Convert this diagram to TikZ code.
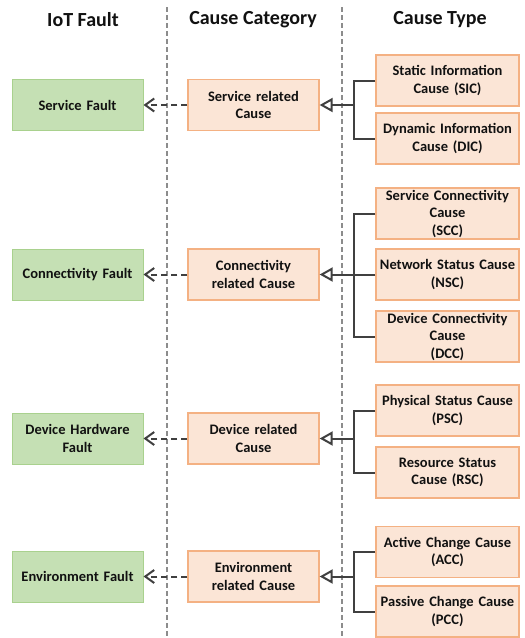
\documentclass[tikz,border=0pt]{standalone}
\usepackage{fontspec}
\setmainfont{Carlito}
\usetikzlibrary{arrows.meta}
\definecolor{gfill}{HTML}{C5E0B4}
\definecolor{gdraw}{HTML}{A9D18E}
\definecolor{ofill}{HTML}{FBE5D6}
\definecolor{odraw}{HTML}{F4B183}
\definecolor{dk}{HTML}{404040}
\definecolor{txt}{HTML}{111111}
\definecolor{sep}{HTML}{8C8C8C}
\tikzset{
  base/.style={rectangle, inner sep=0pt, minimum height=51pt, align=center,
    font=\bfseries\fontsize{14.5}{17.5}\selectfont, text=txt},
  fault/.style={base, fill=gfill, draw=gdraw, line width=1pt, minimum width=131pt, text width=129pt},
  cat/.style={base, fill=ofill, draw=odraw, line width=1.3pt, minimum width=131pt, text width=129pt},
  ctype/.style={base, fill=ofill, draw=odraw, line width=1.3pt, minimum width=143pt, text width=141pt},
  head/.style={font=\bfseries\fontsize{20}{24}\selectfont, text=txt, inner sep=0pt},
  sepline/.style={sep, line width=1.5pt, dash pattern=on 5pt off 3pt},
  dep/.style={dk, line width=2pt, dash pattern=on 6pt off 4pt, -{Straight Barb[length=9pt,width=13pt,line width=2pt]}},
  brk/.style={dk, line width=2pt},
  gen/.style={dk, line width=2pt, -{Triangle[open,length=13pt,width=14pt,line width=2pt,fill=white]}}
}
\begin{document}
\begin{tikzpicture}[x=1pt,y=-1pt]
\useasboundingbox (0,0) rectangle (525,638);
% separators
\coordinate (s1t) at (167,7); \coordinate (s1b) at (167,638);
\coordinate (s2t) at (342,7); \coordinate (s2b) at (342,638);
\draw[sepline] (s1t) -- (s1b);
\draw[sepline] (s2t) -- (s2b);
% headers
\node[head] (h1) at (83,20) {IoT Fault};
\node[head] (h2) at (253,20) {Cause Category};
\node[head] (h3) at (440,20) {Cause Type};
% row 1
\node[fault] (f1) at (77.5,105) {Service Fault};
\node[cat] (c1) at (253.5,105) {Service related\\Cause};
\node[ctype] (t11) at (447.5,80.5) {Static Information\\Cause (SIC)};
\node[ctype] (t12) at (447.5,138.5) {Dynamic Information\\Cause (DIC)};
% row 2
\node[fault] (f2) at (77.5,274.5) {Connectivity Fault};
\node[cat] (c2) at (253.5,274.5) {Connectivity\\related Cause};
\node[ctype] (t21) at (447.5,213.5) {Service Connectivity\\Cause\\(SCC)};
\node[ctype] (t22) at (447.5,274.5) {Network Status Cause\\(NSC)};
\node[ctype] (t23) at (447.5,336.5) {Device Connectivity\\Cause\\(DCC)};
% row 3
\node[fault] (f3) at (77.5,438.5) {Device Hardware\\Fault};
\node[cat] (c3) at (253.5,438.5) {Device related\\Cause};
\node[ctype] (t31) at (447.5,410.5) {Physical Status Cause\\(PSC)};
\node[ctype] (t32) at (447.5,472.5) {Resource Status\\Cause (RSC)};
% row 4
\node[fault] (f4) at (77.5,576.5) {Environment Fault};
\node[cat] (c4) at (253.5,576.5) {Environment\\related Cause};
\node[ctype] (t41) at (447.5,552) {Active Change Cause\\(ACC)};
\node[ctype] (t42) at (447.5,611.5) {Passive Change Cause\\(PCC)};
% junctions
\coordinate (j1) at (354,105);
\coordinate (j2) at (354,274.5);
\coordinate (j3) at (354,438.5);
\coordinate (j4) at (354,576.5);
% brackets
\draw[brk] (t11.west) -| (j1) |- (t12.west);
\draw[brk] (t21.west) -| (j2) |- (t23.west);
\draw[brk] (t22.west) -- (j2);
\draw[brk] (t31.west) -| (j3) |- (t32.west);
\draw[brk] (t41.west) -| (j4) |- (t42.west);
% generalization arrows
\draw[gen] (j1) -- (c1.east);
\draw[gen] (j2) -- (c2.east);
\draw[gen] (j3) -- (c3.east);
\draw[gen] (j4) -- (c4.east);
% dependency arrows
\draw[dep] (c1.west) -- (f1.east);
\draw[dep] (c2.west) -- (f2.east);
\draw[dep] (c3.west) -- (f3.east);
\draw[dep] (c4.west) -- (f4.east);
\end{tikzpicture}
\end{document}
